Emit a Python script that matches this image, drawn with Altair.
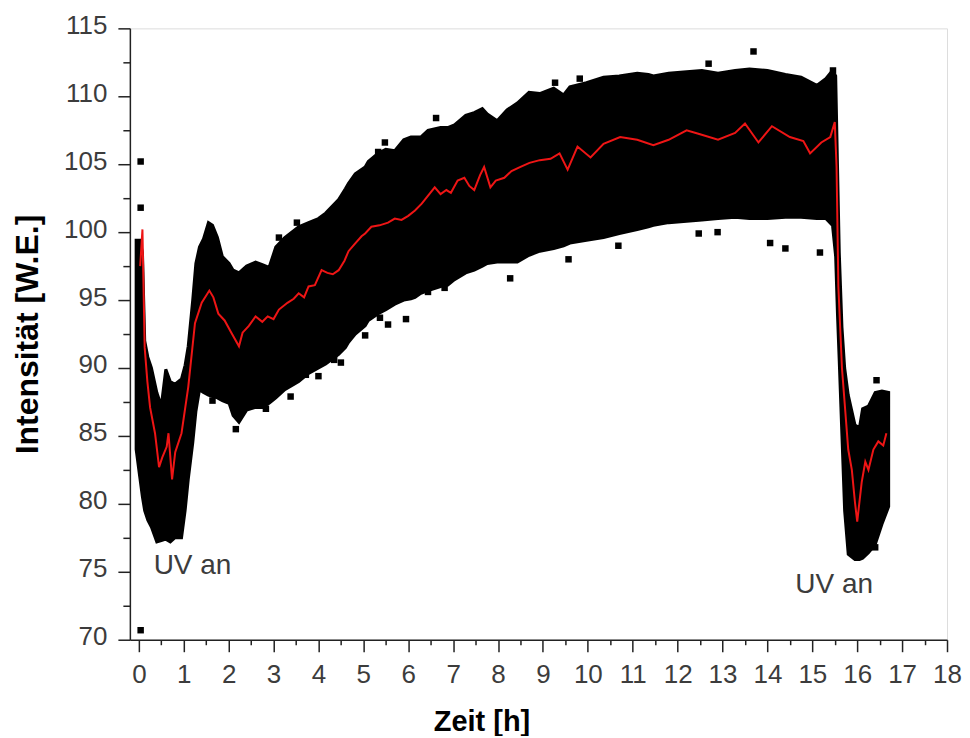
import altair as alt
import pandas as pd

# ---------------- data ----------------
# envelope of the dense black point cloud (time [h], lower, upper)
band_x = [-0.06, 0.02, 0.08, 0.13, 0.2, 0.28, 0.4, 0.5, 0.6, 0.7, 0.8, 0.95,
          1.03, 1.1, 1.2, 1.27, 1.35, 1.44, 1.55, 1.64, 1.75, 1.86, 2.01,
          2.1, 2.23, 2.4, 2.6, 2.75, 2.9, 3.05, 3.25, 3.56, 3.78, 4.0, 4.16,
          4.45, 4.6, 4.67, 4.82, 5.04, 5.11, 5.33, 5.5, 5.7, 5.9, 6.06, 6.15,
          6.28, 6.44, 6.72, 6.88, 7.03, 7.28, 7.47, 7.65, 7.76, 7.98, 8.2,
          8.43, 8.69, 8.93, 9.24, 9.46, 9.6, 9.97, 10.35, 10.7, 11.1, 11.35,
          11.46, 11.8, 12.2, 12.54, 12.9, 13.28, 13.6, 14.0, 14.4, 14.75,
          15.1, 15.3, 15.45, 15.52, 15.56, 15.6, 15.66, 15.72, 15.8, 15.95,
          16.05, 16.12, 16.25, 16.4, 16.55, 16.7]
band_lo = [84.0, 82.0, 80.5, 79.5, 78.8, 78.3, 77.2, 77.3, 77.4, 77.2, 77.5, 77.5,
           79.5, 81.8, 84.5, 86.8, 88.4, 88.2, 88.0, 87.9, 87.8, 87.6, 87.4,
           86.5, 86.0, 86.9, 87.1, 87.1, 87.4, 87.8, 88.4, 89.0, 89.6, 90.0, 90.3,
           91.0, 91.5, 91.9, 92.5, 93.1, 93.5, 94.0, 94.3, 94.7, 95.0, 95.1, 95.2,
           95.5, 95.7, 96.0, 96.1, 96.5, 97.0, 97.2, 97.5, 97.7, 97.8, 97.8,
           97.8, 98.3, 98.6, 98.8, 99.0, 99.2, 99.4, 99.6, 99.9, 100.2, 100.4,
           100.5, 100.7, 100.8, 100.9, 101.0, 101.1, 101.0, 101.0, 101.1, 101.1,
           101.0, 101.0, 100.5, 98.2, 94.0, 90.5, 85.0, 79.5, 76.3, 75.9,
           75.9, 76.0, 76.4, 77.0, 78.5, 79.8]
band_hi = [99.4, 99.4, 98.5, 92.0, 90.8, 90.0, 88.2, 87.2, 89.9, 89.0, 88.8, 89.2,
           90.2, 91.6, 95.0, 97.7, 98.9, 99.5, 100.7, 100.5, 99.6, 98.2, 97.7,
           97.2, 97.0, 97.5, 97.8, 97.6, 97.4, 98.9, 99.6, 100.4, 100.7, 101.0, 101.4,
           102.4, 103.2, 103.6, 104.3, 104.8, 105.2, 105.8, 106.1, 106.0, 106.8, 107.0, 107.0,
           107.0, 107.5, 107.7, 107.7, 107.9, 108.6, 108.8, 109.1, 108.7, 108.2, 109.0,
           109.5, 110.3, 110.2, 110.6, 110.1, 110.7, 111.0, 111.4, 111.5, 111.7, 111.6,
           111.5, 111.7, 111.8, 111.9, 111.7, 111.9, 112.0, 111.9, 111.6, 111.4,
           110.8, 111.3, 111.9, 111.5, 105.0, 98.5, 93.0, 90.0, 88.0, 85.8,
           85.6, 87.0, 87.2, 88.2, 88.3, 88.2]

# isolated points outside the dense cloud
out_x = [0.04, 0.04, 0.04, 3.12, 3.52, 5.33, 5.48, 6.62, 9.27, 9.82, 12.69, 13.69,
         15.46, 1.64, 2.16, 2.83, 3.38, 3.72, 4.0, 4.35, 4.5, 5.04, 5.37, 5.55,
         5.95, 6.44, 6.81, 8.27, 9.57, 10.68, 12.47, 12.89, 14.06, 14.4, 15.17,
         16.43, 16.4]
out_y = [105.2, 101.8, 70.7, 99.6, 100.7, 105.9, 106.6, 108.4, 111.0, 111.3, 112.4, 113.3,
         111.9, 87.6, 85.5, 87.0, 87.9, 89.5, 89.4, 90.6, 90.4, 92.4, 93.7, 93.2,
         93.6, 95.6, 95.9, 96.6, 98.0, 99.0, 99.9, 100.0, 99.2, 98.8, 98.5,
         89.1, 76.8]

# red smoothed curve
red_x = [0.03, 0.08, 0.13, 0.19, 0.25, 0.36, 0.45, 0.52, 0.62, 0.66, 0.74, 0.81,
         0.95, 1.1, 1.25, 1.4, 1.57, 1.66, 1.77, 1.91, 2.06, 2.23, 2.31, 2.45,
         2.6, 2.75, 2.87, 3.0, 3.12, 3.31, 3.45, 3.56, 3.68, 3.78, 3.92, 4.07,
         4.2, 4.32, 4.45, 4.58, 4.67, 4.8, 4.96, 5.04, 5.18, 5.36, 5.55, 5.7,
         5.85, 6.0, 6.15, 6.3, 6.42, 6.59, 6.72, 6.85, 6.95, 7.1, 7.25, 7.36,
         7.47, 7.6, 7.69, 7.83, 7.95, 8.14, 8.3, 8.5, 8.7, 8.93, 9.17, 9.37,
         9.55, 9.77, 10.06, 10.35, 10.72, 11.1, 11.46, 11.8, 12.2, 12.5, 12.9,
         13.28, 13.5, 13.8, 14.1, 14.5, 14.8, 14.95, 15.2, 15.4, 15.5, 15.54,
         15.58, 15.66, 15.73, 15.8, 15.88, 15.95, 16.0, 16.1, 16.18, 16.25,
         16.36, 16.47, 16.58, 16.65]
red_y = [97.5, 100.2, 91.5, 89.0, 87.1, 85.2, 82.7, 83.4, 84.2, 85.2, 81.8, 83.8,
         85.2, 88.6, 93.3, 94.8, 95.7, 95.2, 94.0, 93.5, 92.6, 91.6, 92.6, 93.1,
         93.8, 93.4, 93.8, 93.6, 94.3, 94.8, 95.1, 95.5, 95.2, 96.0, 96.1, 97.2,
         97.0, 96.9, 97.2, 97.9, 98.6, 99.1, 99.7, 99.9, 100.4, 100.5, 100.7, 101.0,
         100.9, 101.2, 101.6, 102.1, 102.6, 103.3, 102.8, 103.1, 102.9, 103.8, 104.0, 103.4,
         103.1, 104.2, 104.8, 103.3, 103.8, 104.0, 104.5, 104.8, 105.1, 105.3, 105.4, 105.8,
         104.6, 106.3, 105.5, 106.5, 107.0, 106.8, 106.4, 106.8, 107.5, 107.2, 106.8,
         107.3, 108.0, 106.6, 107.8, 107.0, 106.7, 105.8, 106.6, 107.0, 108.1, 104.8,
         96.0, 90.0, 87.0, 84.0, 82.5, 80.1, 78.7, 81.6, 83.1, 82.5,
         84.0, 84.6, 84.3, 85.2]

# annotations
note_x = [0.33, 14.62]
note_y = [75.4, 74.0]
note_text = ["UV an", "UV an"]

# axis ticks
x_ticks = [0, 0.5, 1, 1.5, 2, 2.5, 3, 3.5, 4, 4.5, 5, 5.5, 6, 6.5, 7, 7.5, 8, 8.5,
           9, 9.5, 10, 10.5, 11, 11.5, 12, 12.5, 13, 13.5, 14, 14.5, 15, 15.5,
           16, 16.5, 17, 17.5, 18]
y_ticks = [70, 72.5, 75, 77.5, 80, 82.5, 85, 87.5, 90, 92.5, 95, 97.5, 100,
           102.5, 105, 107.5, 110, 112.5, 115]

band = pd.DataFrame({"t": band_x, "lo": band_lo, "hi": band_hi})
outs = pd.DataFrame({"t": out_x, "v": out_y})
red = pd.DataFrame({"t": red_x, "v": red_y})
notes = pd.DataFrame({"t": note_x, "v": note_y, "txt": note_text})

FONT = "Liberation Sans"
AX_COL = "#222222"
LBL_COL = "#3c3c3c"

x_axis = alt.Axis(
    values=x_ticks,
    title="Zeit [h]",
    titleFont=FONT, titleFontSize=29, titleFontWeight="bold", titleColor="#000000",
    titleX=352, titleY=91, titleBaseline="alphabetic", titleAnchor="start", titleAlign="center",
    labelExpr="datum.value % 1 === 0 ? '' + datum.value : ''",
    labelFont=FONT, labelFontSize=26, labelColor=LBL_COL,
    labelPadding=10, labelOverlap=False, labelFlush=False,
    tickSize={"condition": {"test": "datum.value % 1 !== 0", "value": 5}, "value": 12},
    tickColor=AX_COL, tickWidth=1.5, domainColor=AX_COL, domainWidth=1.5,
    grid=False,
)
y_axis = alt.Axis(
    values=y_ticks,
    title="Intensität [W.E.]",
    titleFont=FONT, titleFontSize=32, titleFontWeight="bold", titleColor="#000000",
    titleX=-102, titleY=306, titleAngle=270, titleBaseline="middle", titleAlign="center",
    titleAnchor="start",
    labelExpr="datum.value % 5 === 0 ? '' + datum.value : ''",
    labelFont=FONT, labelFontSize=26, labelColor=LBL_COL,
    labelPadding=11, labelOverlap=False, labelFlush=False, labelOffset=-3,
    tickSize={"condition": {"test": "datum.value % 5 !== 0", "value": 7}, "value": 12},
    tickColor=AX_COL, tickWidth=1.5, domainColor=AX_COL, domainWidth=1.5,
    grid=False,
)
x_scale = alt.Scale(domain=[-0.2, 18], nice=False, zero=False)
y_scale = alt.Scale(domain=[70, 115], nice=False, zero=False)


def X():
    return alt.X("t:Q", scale=x_scale, axis=x_axis)


def Y(field):
    return alt.Y(field, scale=y_scale, axis=y_axis)


band_layer = alt.Chart(band).mark_area(
    color="#000000", opacity=1, stroke="#000000", strokeWidth=3, interpolate="linear"
).encode(x=X(), y=Y("hi:Q"), y2="lo:Q")

out_layer = alt.Chart(outs).mark_square(color="#000000", size=42, opacity=1).encode(
    x=X(), y=Y("v:Q")
)

red_layer = alt.Chart(red).mark_line(color="#ee1515", strokeWidth=2).encode(
    x=X(), y=Y("v:Q")
)

note_layer = alt.Chart(notes).mark_text(
    align="left", baseline="middle", font=FONT, fontSize=28, color=LBL_COL
).encode(x=X(), y=Y("v:Q"), text="txt:N")

chart = alt.layer(band_layer, out_layer, red_layer, note_layer).properties(
    width=818, height=612,
    autosize=alt.AutoSizeParams(type="none"),
    padding={"left": 122, "top": 20, "right": 15, "bottom": 96},
).configure_view(stroke=None).configure(background="#ffffff")

chart.save("out.html", embed_options={"renderer": "svg", "actions": False})
